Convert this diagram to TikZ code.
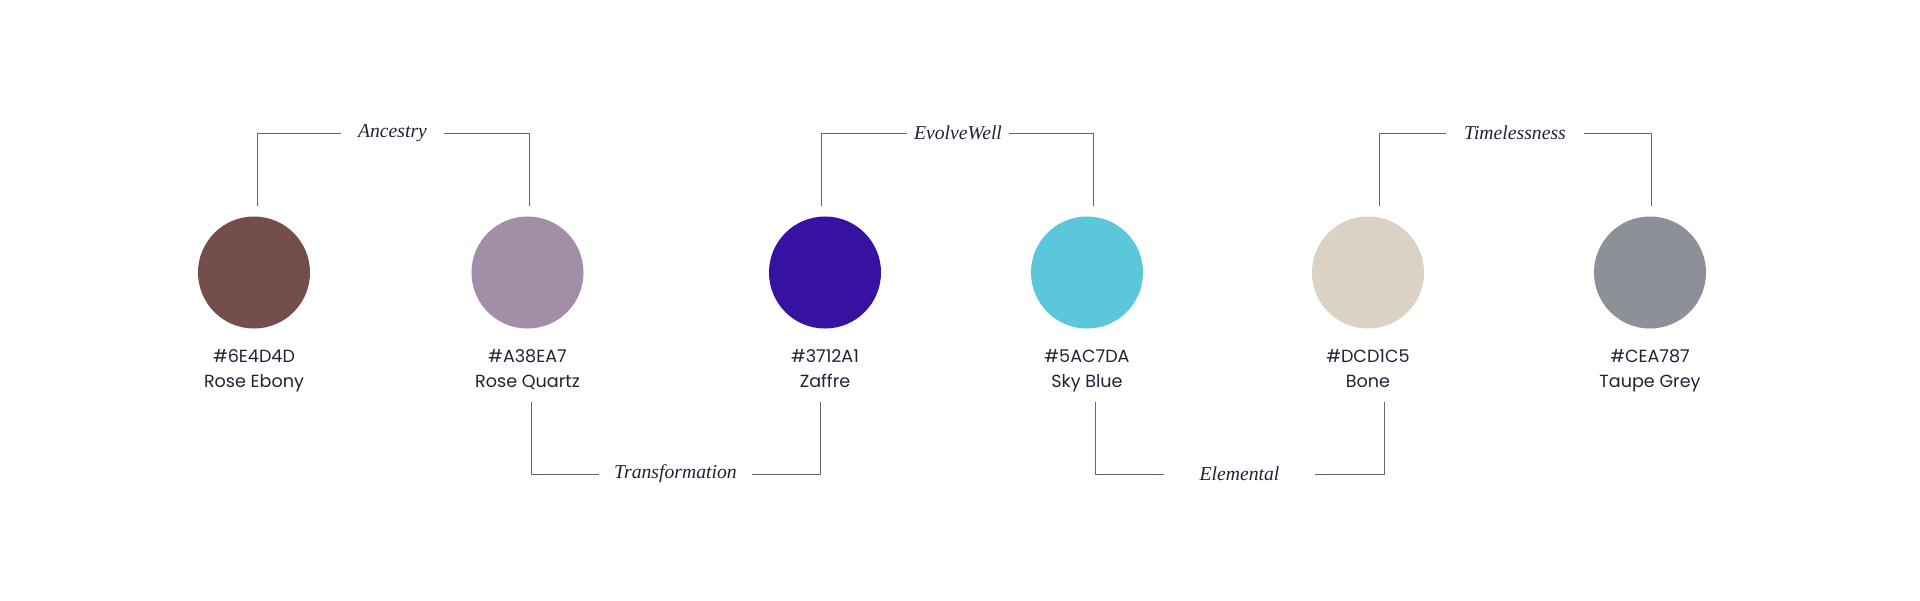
\documentclass[tikz,border=0pt]{standalone}
\usepackage{fontspec}
\setmainfont{Liberation Serif}
\newfontfamily\swatchfont{Poppins}
\usetikzlibrary{positioning}

\definecolor{ebony}{HTML}{734E4C}
\definecolor{quartz}{HTML}{A38EA7}
\definecolor{zaffre}{HTML}{3712A1}
\definecolor{sky}{HTML}{5AC7DA}
\definecolor{bone}{HTML}{DCD1C5}
\definecolor{taupe}{HTML}{8D8F99}
\definecolor{linegrey}{HTML}{5E6A72}
\definecolor{ink}{HTML}{1D2535}

\begin{document}
\begin{tikzpicture}[x=0.025cm,y=-0.025cm,
    swatch/.style={circle, minimum size=2.8cm, inner sep=0pt},
    caption/.style={font=\swatchfont\fontsize{12.5}{17.8}\selectfont, text=ink, align=center, inner sep=0pt},
    theme/.style={font=\itshape\fontsize{14}{16}\selectfont, text=ink, inner sep=0pt, minimum width=#1*0.025cm},
    bracket/.style={draw=linegrey, line width=0.6pt}]
    \useasboundingbox (0,0) rectangle (1920,600);

    % swatches with their codes
    \foreach \name/\x/\hex/\title in {ebony/254/6E4D4D/Rose Ebony, quartz/527.5/A38EA7/Rose Quartz,
        zaffre/825/3712A1/Zaffre, sky/1087/5AC7DA/Sky Blue, bone/1368/DCD1C5/Bone, taupe/1650/CEA787/Taupe Grey} {
        \node[swatch, fill=\name] (\name) at (\x,272.5) {};
        \node[caption, below=0.52cm of \name] (\name-txt) {\#\hex\\\title};
    }

    % themes
    \node[theme=103] (ancestry) at (392.5,133) {Ancestry};
    \node[theme=102] (evolve) at (958,133) {EvolveWell};
    \node[theme=138] (timeless) at (1515,133) {Timelessness};
    \node[theme=153] (transform) at (675.5,474) {Transformation};
    \node[theme=151] (elemental) at (1239.5,474) {Elemental};

    \coordinate (anc-l) at (257,206);  \coordinate (anc-r) at (529,206);
    \coordinate (evo-l) at (821,206);  \coordinate (evo-r) at (1093,206);
    \coordinate (tim-l) at (1379,206); \coordinate (tim-r) at (1651,206);
    \coordinate (tra-l) at (531,402);  \coordinate (tra-r) at (820,402);
    \coordinate (ele-l) at (1095,402); \coordinate (ele-r) at (1384,402);

    \draw[bracket] (ancestry.west) -| (anc-l);  \draw[bracket] (ancestry.east) -| (anc-r);
    \draw[bracket] (evolve.west) -| (evo-l);    \draw[bracket] (evolve.east) -| (evo-r);
    \draw[bracket] (timeless.west) -| (tim-l);  \draw[bracket] (timeless.east) -| (tim-r);
    \draw[bracket] (transform.west) -| (tra-l); \draw[bracket] (transform.east) -| (tra-r);
    \draw[bracket] (elemental.west) -| (ele-l); \draw[bracket] (elemental.east) -| (ele-r);
\end{tikzpicture}
\end{document}
